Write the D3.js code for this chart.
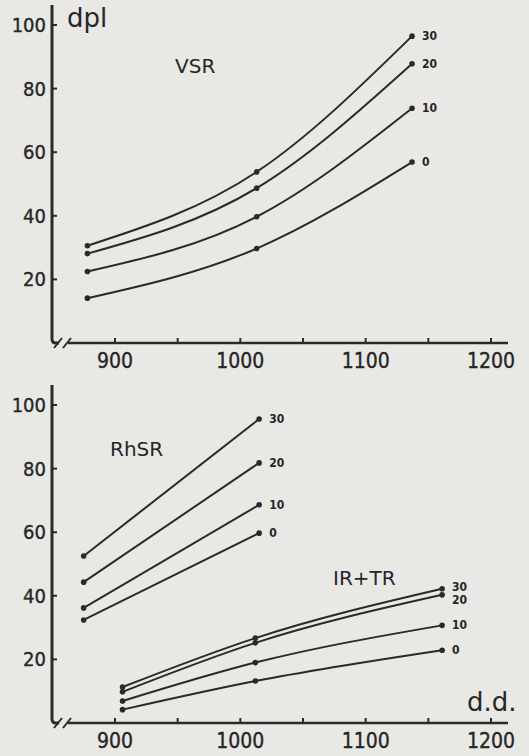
<!DOCTYPE html>
<html>
<head>
<meta charset="utf-8">
<script src="https://cdn.jsdelivr.net/npm/d3@7"></script>
<style>
  html, body { margin: 0; padding: 0; background: #e8e8e5; }
  svg { display: block; }
  text { fill: #262626; font-family: "Liberation Sans Narrow", "DejaVu Sans Condensed", sans-serif; }
  .tick-label { font-size: 21px; stroke: #262626; stroke-width: 0.35px; }
  .ytick-label { font-size: 20px; stroke: #262626; stroke-width: 0.35px; }
  .curve-label { font-size: 12px; font-weight: bold; font-family: "DejaVu Sans Condensed", sans-serif; }
  .panel-label { font-size: 20px; font-family: "DejaVu Sans", sans-serif; }
</style>
</head>
<body>
<script>
// data: heat sum (d.d.) vs. dpl, curves per level 0/10/20/30
const levels = ['0', '10', '20', '30']

// VSR
const vsrX = [878, 1013, 1137]
const vsr0 = [14.1, 29.7, 56.9]
const vsr10 = [22.5, 39.7, 73.8]
const vsr20 = [28.1, 48.7, 87.8]
const vsr30 = [30.6, 53.8, 96.5]

// RhSR
const rhsrX = [875, 1015]
const rhsr0 = [32.4, 59.7]
const rhsr10 = [36.2, 68.6]
const rhsr20 = [44.3, 81.8]
const rhsr30 = [52.5, 95.6]

// IR+TR
const irtrX = [906, 1012, 1161]
const irtr0 = [4.2, 13.2, 22.9]
const irtr10 = [6.9, 19.0, 30.7]
const irtr20 = [9.8, 25.2, 40.3]
const irtr30 = [11.3, 26.7, 42.2]

const xTicks = [900, 950, 1000, 1050, 1100, 1150, 1200]
const xTickLabels = [900, 1000, 1100, 1200]
const yTicks = [20, 40, 60, 80, 100]

const width = 529
const height = 756
const ink = '#2a2a2a'

const svg = d3.select('body').append('svg')
    .attr('width', width).attr('height', height)

const xScale = d3.scaleLinear([900, 1200], [115, 491])

function toSeries(xs, ys) {
    return xs.map((x, i) => ({ x: x, y: ys[i] }))
}

function drawPanel(top, groups) {
    const yScale = d3.scaleLinear([0, 100], [top + 343, top + 25])
    const g = svg.append('g')
    const x0 = 52
    const yBase = yScale(0)

    // y axis
    g.append('path')
        .attr('d', `M${x0},${top + 5} V${yBase - 4} Q${x0},${yBase} ${x0 + 4},${yBase} H${x0 + 7}`)
        .attr('fill', 'none').attr('stroke', ink).attr('stroke-width', 3)
    g.selectAll('.ytick').data(yTicks).join('line')
        .attr('x1', x0).attr('x2', x0 + 5)
        .attr('y1', d => yScale(d)).attr('y2', d => yScale(d))
        .attr('stroke', ink).attr('stroke-width', 2)
    g.selectAll('.ylab').data(yTicks).join('text')
        .attr('class', 'ytick-label')
        .attr('x', x0 - 6).attr('y', d => yScale(d) + 7)
        .attr('text-anchor', 'end')
        .text(d => d)

    // x axis with break
    g.append('line')
        .attr('x1', 68).attr('x2', 508).attr('y1', yBase).attr('y2', yBase)
        .attr('stroke', ink).attr('stroke-width', 2.5)
    ;[58, 67].forEach(bx => {
        g.append('line')
            .attr('x1', bx - 4).attr('y1', yBase + 5)
            .attr('x2', bx + 4).attr('y2', yBase - 5)
            .attr('stroke', ink).attr('stroke-width', 2)
    })
    g.selectAll('.xtick').data(xTicks).join('line')
        .attr('x1', d => xScale(d)).attr('x2', d => xScale(d))
        .attr('y1', yBase).attr('y2', yBase - 5)
        .attr('stroke', ink).attr('stroke-width', 2)
    g.selectAll('.xlab').data(xTickLabels).join('text')
        .attr('class', 'tick-label')
        .attr('x', d => xScale(d)).attr('y', yBase + 25)
        .attr('text-anchor', 'middle')
        .text(d => d)

    const line = d3.line()
        .x(d => xScale(d.x)).y(d => yScale(d.y))
        .curve(d3.curveMonotoneX)

    groups.forEach(grp => {
        grp.series.forEach((s, i) => {
            const data = toSeries(grp.xs, s)
            g.append('path').datum(data)
                .attr('d', line)
                .attr('fill', 'none').attr('stroke', ink).attr('stroke-width', 2)
            g.selectAll(null).data(data).join('circle')
                .attr('cx', d => xScale(d.x)).attr('cy', d => yScale(d.y))
                .attr('r', 2.8).attr('fill', ink)
            const last = data[data.length - 1]
            g.append('text')
                .attr('class', 'curve-label')
                .attr('x', xScale(last.x) + 10)
                .attr('y', yScale(last.y) + 4 + (grp.labelShift ? grp.labelShift[i] : 0))
                .text(levels[i])
        })
        g.append('text')
            .attr('class', 'panel-label')
            .attr('x', grp.name.x).attr('y', top + grp.name.y)
            .text(grp.name.text)
    })
    return g
}

const topPanel = drawPanel(0, [
    { xs: vsrX, series: [vsr0, vsr10, vsr20, vsr30], name: { text: 'VSR', x: 175, y: 73 } }
])
topPanel.append('text')
    .attr('x', 67).attr('y', 27)
    .style('font-size', '26px').style('font-family', 'DejaVu Sans, sans-serif')
    .text('dpl')

const bottomPanel = drawPanel(380, [
    { xs: rhsrX, series: [rhsr0, rhsr10, rhsr20, rhsr30], name: { text: 'RhSR', x: 110, y: 76 } },
    { xs: irtrX, series: [irtr0, irtr10, irtr20, irtr30], labelShift: [0, 0, 5, -2],
      name: { text: 'IR+TR', x: 333, y: 205 } }
])
bottomPanel.append('text')
    .attr('x', 467).attr('y', 380 + 331)
    .style('font-size', '26px').style('font-family', 'DejaVu Sans, sans-serif')
    .text('d.d.')
</script>
</body>
</html>
